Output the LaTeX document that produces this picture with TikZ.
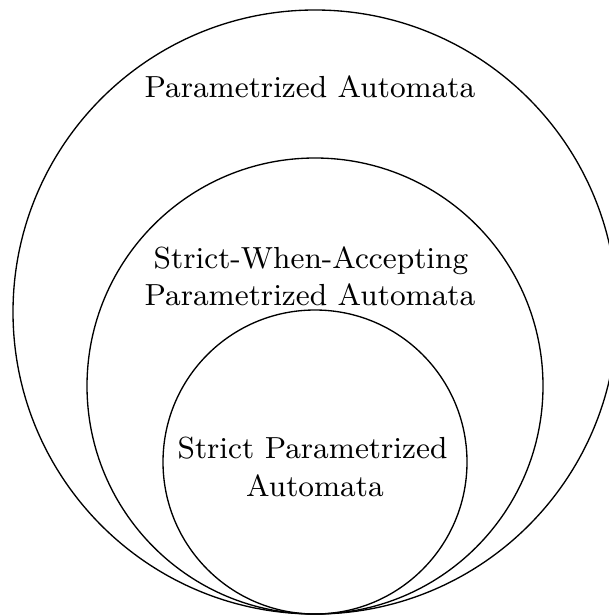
\documentclass[tikz,border=0pt]{standalone}
\begin{document}
\begin{tikzpicture}[x=0.3pt,y=-0.3pt,
  setcircle/.style={draw,circle,inner sep=0pt,line width=0.4pt},
  setlabel/.style={anchor=base,inner sep=0pt,font=\fontsize{9.15}{11}\selectfont}]
  \useasboundingbox (0,0) rectangle (608,616);
  % nested classes, all tangent at the bottom point
  \node[setcircle,minimum size=604*0.3pt] (pa)  at (315,312) {};
  \node[setcircle,minimum size=456*0.3pt] (swa) at (315,386) {};
  \node[setcircle,minimum size=304*0.3pt] (spa) at (315,462) {};
  % class names
  \node[setlabel] (lpa)   at (310,98)    {Parametrized Automata};
  \node[setlabel] (lswa1) at (311,268)   {Strict-When-Accepting};
  \node[setlabel] (lswa2) at (310,305)   {Parametrized Automata};
  \node[setlabel] (lspa1) at (312.5,458) {Strict Parametrized};
  \node[setlabel] (lspa2) at (315,496)   {Automata};
\end{tikzpicture}
\end{document}
